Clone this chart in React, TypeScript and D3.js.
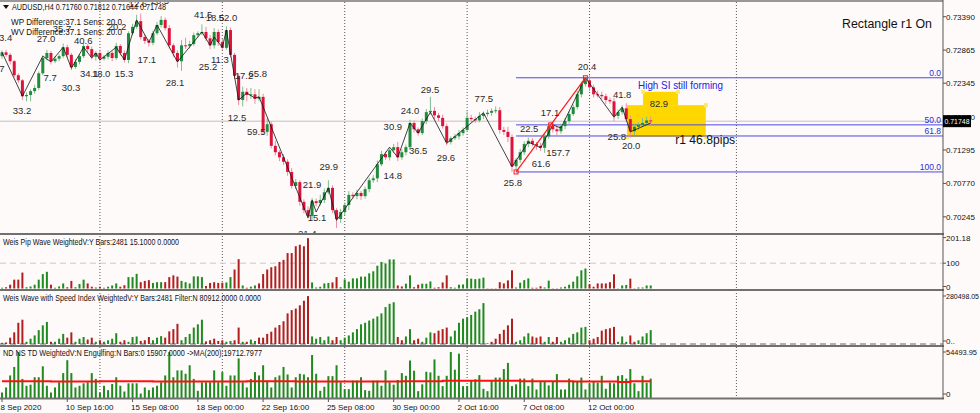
import React from 'react';
import * as d3 from 'd3';

const W = 980;
const H = 413;
const FONT = 'Liberation Sans, Arial, sans-serif';

const firstOpen = 0.7277;
const closes = [
  0.7283, 0.7279, 0.7269, 0.7247, 0.7239, 0.7214, 0.7216, 0.7222, 0.7227, 0.7250,
  0.7274, 0.7282, 0.7269, 0.7273, 0.7277, 0.7291, 0.7279, 0.7260, 0.7268, 0.7277,
  0.7293, 0.7288, 0.7276, 0.7282, 0.7273, 0.7276, 0.7282, 0.7274, 0.7293, 0.7282,
  0.7271, 0.7313, 0.7323, 0.7332, 0.7307, 0.7301, 0.7298, 0.7313, 0.7326, 0.7334,
  0.7321, 0.7294, 0.7282, 0.7269, 0.7294, 0.7293, 0.7296, 0.7310, 0.7313, 0.7315,
  0.7305, 0.7294, 0.7315, 0.7299, 0.7290, 0.7318, 0.7279, 0.7246, 0.7208, 0.7221,
  0.7216, 0.7217, 0.7210, 0.7213, 0.7158, 0.7170, 0.7136, 0.7126, 0.7118, 0.7111,
  0.7095, 0.7073, 0.7079, 0.7048, 0.7035, 0.7026, 0.7049, 0.7046, 0.7051, 0.7063,
  0.7070, 0.7035, 0.7021, 0.7032, 0.7043, 0.7059, 0.7057, 0.7062, 0.7057, 0.7068,
  0.7082, 0.7085, 0.7107, 0.7123, 0.7118, 0.7129, 0.7134, 0.7118, 0.7126, 0.7134,
  0.7172, 0.7162, 0.7156, 0.7175, 0.7189, 0.7191, 0.7184, 0.7180, 0.7167, 0.7142,
  0.7148, 0.7151, 0.7156, 0.7161, 0.7180, 0.7178, 0.7176, 0.7183, 0.7186, 0.7188,
  0.7191, 0.7192, 0.7161, 0.7158, 0.7150, 0.7104, 0.7114, 0.7126, 0.7139, 0.7144,
  0.7139, 0.7136, 0.7133, 0.7151, 0.7167, 0.7162, 0.7159, 0.7167, 0.7175, 0.7186,
  0.7197, 0.7217, 0.7233, 0.7239, 0.7228, 0.7217, 0.7216, 0.7214, 0.7208, 0.7206,
  0.7183, 0.7189, 0.7195, 0.7178, 0.7159, 0.7166, 0.7169, 0.7172, 0.7176, 0.71748,
];
// wick lengths in pips beyond the body
const wickUp = [
  3, 4, 3, 2, 3, 2, 4, 3, 5, 3, 4, 5, 3, 4, 3, 6, 4, 3, 4, 3,
  5, 3, 4, 3, 5, 3, 4, 3, 5, 3, 4, 3, 5, 10, 12, 4, 3, 4, 5, 6,
  4, 5, 3, 4, 8, 12, 5, 4, 3, 12, 8, 5, 6, 4, 5, 6, 4, 3, 4, 8,
  6, 10, 8, 12, 5, 10, 4, 8, 3, 5, 4, 6, 5, 3, 4, 6, 5, 4, 8, 6,
  12, 4, 3, 5, 4, 6, 4, 5, 3, 4, 4, 5, 6, 5, 4, 3, 5, 8, 5, 4,
  5, 4, 3, 4, 5, 22, 6, 4, 5, 4, 3, 4, 5, 4, 10, 5, 4, 6, 4, 5,
  4, 6, 5, 5, 8, 4, 3, 5, 4, 5, 4, 3, 5, 4, 5, 4, 6, 4, 5, 4,
  4, 5, 4, 5, 8, 4, 6, 5, 4, 4, 5, 4, 5, 8, 6, 5, 4, 8, 6, 6,
];
const wickDn = [
  4, 3, 5, 3, 4, 6, 8, 10, 4, 3, 3, 4, 5, 3, 4, 3, 4, 5, 3, 4,
  3, 5, 4, 6, 4, 3, 4, 5, 3, 4, 4, 5, 3, 3, 4, 5, 6, 4, 3, 4,
  4, 5, 6, 10, 15, 5, 4, 3, 4, 3, 4, 6, 5, 6, 4, 3, 4, 5, 8, 10,
  10, 6, 8, 4, 5, 6, 4, 5, 6, 5, 6, 4, 5, 6, 5, 4, 6, 5, 4, 5,
  3, 5, 14, 6, 5, 8, 4, 5, 6, 4, 5, 4, 6, 3, 4, 5, 4, 6, 4, 5,
  4, 5, 4, 3, 5, 4, 6, 5, 4, 5, 4, 3, 5, 4, 3, 5, 4, 3, 5, 4,
  5, 4, 6, 5, 8, 9, 6, 5, 4, 5, 4, 6, 5, 8, 4, 5, 6, 4, 5, 4,
  3, 4, 5, 4, 6, 5, 4, 5, 6, 4, 8, 5, 4, 5, 10, 6, 5, 4, 5, 6,
];

// wave direction runs (U = up wave, D = down wave)
const waveRuns: [string, number][] = [
  ['U', 1], ['D', 5], ['U', 6], ['D', 1], ['U', 3], ['D', 2], ['U', 3], ['D', 2], ['U', 1], ['D', 1],
  ['U', 4], ['D', 2], ['U', 3], ['D', 3], ['U', 3], ['D', 4], ['U', 6], ['D', 5], ['U', 2], ['D', 2],
  ['U', 1], ['D', 1], ['U', 2], ['D', 13], ['U', 5], ['D', 2], ['U', 14], ['D', 2], ['U', 2], ['D', 2],
  ['U', 3], ['D', 4], ['U', 9], ['D', 7], ['U', 4], ['D', 3], ['U', 2], ['D', 2], ['U', 7], ['D', 7],
  ['U', 3], ['D', 2], ['U', 4],
];

const pipWave = [
  3, 5, 15, 35, 35, 63, 5, 8, 15, 35, 57, 66, 15, 3, 8, 20, 5, 30, 5, 18,
  35, 20, 7, 4, 7, 3, 7, 12, 20, 7, 13, 45, 45, 58, 25, 30, 33, 22, 25, 25,
  25, 45, 52, 47, 30, 25, 20, 48, 48, 45, 10, 22, 25, 22, 23, 24, 45, 75, 116, 12,
  3, 7, 12, 20, 57, 75, 84, 88, 105, 113, 140, 140, 167, 173, 167, 199, 24, 4, 7, 20,
  22, 24, 45, 5, 36, 27, 40, 40, 47, 47, 60, 68, 90, 105, 99, 115, 115, 12, 8, 19,
  52, 5, 15, 19, 19, 28, 3, 5, 24, 52, 5, 3, 15, 16, 39, 39, 37, 39, 43, 1,
  1, 1, 25, 20, 32, 72, 4, 23, 33, 40, 3, 3, 9, 4, 31, 1, 1, 4, 7, 15,
  27, 48, 72, 79, 17, 7, 20, 20, 20, 25, 56, 1, 12, 14, 39, 1, 4, 4, 12, 12,
];

// thousands
const speedWave = [
  7, 9, 37, 68, 124, 142, 13, 31, 50, 81, 109, 129, 13, 13, 31, 59, 37, 68, 13, 31,
  41, 26, 37, 13, 22, 13, 22, 31, 63, 13, 22, 13, 41, 44, 18, 22, 41, 22, 37, 46,
  37, 74, 87, 118, 22, 41, 59, 96, 115, 142, 15, 22, 31, 18, 22, 13, 18, 22, 96, 13,
  13, 26, 18, 37, 37, 59, 72, 96, 111, 133, 179, 198, 207, 226, 253, 280, 44, 31, 41, 22,
  44, 22, 41, 22, 37, 50, 68, 87, 115, 124, 137, 148, 161, 179, 216, 235, 244, 41, 22, 44,
  87, 22, 31, 13, 37, 68, 63, 78, 87, 96, 44, 78, 124, 148, 157, 170, 189, 203, 239, 4,
  13, 31, 59, 83, 109, 148, 13, 22, 44, 63, 44, 37, 44, 13, 41, 13, 41, 13, 22, 37,
  59, 68, 96, 100, 22, 31, 41, 78, 87, 92, 100, 13, 44, 13, 50, 13, 22, 44, 63, 81,
];

const ndVolume = [
  6500, 12500, 26700, 36800, 54400, 22600, 14500, 15800, 24600, 24600,
  37600, 14500, 6500, 12500, 18600, 29500, 44800, 29500, 12500, 14500,
  17400, 18600, 29500, 22600, 6500, 14500, 9300, 16600, 24600, 14500,
  7700, 17400, 17400, 17400, 5300, 12500, 9300, 12500, 14500, 18600,
  26700, 54400, 24600, 32700, 32700, 28700, 38800, 22600, 8500, 18600,
  18600, 18600, 32700, 18600, 30700, 14500, 26700, 26700, 46900, 18600,
  12500, 22600, 30700, 26700, 38800, 20600, 12500, 24600, 26700, 36800,
  27900, 12500, 24600, 28700, 27900, 24600, 50900, 28700, 8500, 13300,
  25900, 25900, 38800, 18600, 10500, 10500, 20600, 20600, 24600, 9300,
  8500, 20600, 20600, 14500, 32700, 18600, 15800, 21400, 29500, 26300,
  44400, 32300, 8100, 16200, 31100, 30300, 45700, 26300, 14100, 26300,
  54500, 33500, 52500, 14100, 14100, 20200, 22200, 27100, 10900, 8100,
  20200, 24200, 24200, 34300, 41600, 14100, 16200, 23000, 23000, 14100,
  23000, 10100, 20200, 20200, 14900, 19000, 28300, 10100, 10100, 23000,
  19000, 19000, 24200, 10100, 17400, 19000, 18200, 26300, 10900, 18200,
  17400, 26300, 27100, 23000, 34300, 17400, 8100, 26300, 18200, 23000,
];

// MA(200) steps: [from bar, value]
const maRuns: [number, number][] = [
  [0, 19900], [12, 19600], [24, 19800], [37, 19400], [60, 19700], [72, 19400],
  [98, 19900], [108, 20400], [127, 19800], [140, 19500], [151, 19100], [154, 19700],
];

// zigzag turning points [bar, price]
const zigzag: [number, number][] = [
  [0, 0.7283], [5, 0.7214], [10, 0.7277], [12, 0.7268], [15, 0.7291], [17, 0.7258],
  [20, 0.7291], [22, 0.7274], [23, 0.7282], [24, 0.7271], [28, 0.7291], [30, 0.7271],
  [33, 0.7334], [36, 0.7299], [38, 0.7326], [43, 0.7268], [49, 0.7315], [51, 0.7294],
  [52, 0.7307], [54, 0.7291], [55, 0.7318], [58, 0.7208], [60, 0.7219], [62, 0.7211],
  [63, 0.7213], [75, 0.7023], [76, 0.7051], [77, 0.7032], [80, 0.7070], [82, 0.7019],
  [95, 0.7134], [97, 0.7118], [100, 0.7172], [102, 0.7156], [105, 0.7189], [109, 0.7140],
  [118, 0.7188], [125, 0.7103], [129, 0.7142], [132, 0.7133], [135, 0.7169], [137, 0.7164],
  [143, 0.7243], [150, 0.7181], [152, 0.7197], [154, 0.7158], [159, 0.7172],
];

// zigzag wave labels [bar, price, text]
const zzLabels: [number, number, string][] = [
  [0.9, 0.7307, '3.4'], [0, 0.7258, '7'], [4.9, 0.7192, '33.2'], [10.8, 0.7305, '27.0'],
  [11.8, 0.7243, '7.7'], [14.7, 0.7321, '35.7'], [16.9, 0.7228, '30.3'], [19.9, 0.7302, '40.6'],
  [21.4, 0.7250, '34.1'], [24.3, 0.7250, '18.0'], [28.2, 0.7323, '20.2'], [29.9, 0.7250, '15.3'],
  [33.3, 0.7359, '12.6'], [38.7, 0.7364, '20.5'], [35.5, 0.7271, '17.1'], [42.4, 0.7236, '28.1'],
  [49.3, 0.7343, '41.5'], [52.2, 0.7338, '18.5'], [55.4, 0.7338, '52.0'], [50.5, 0.7261, '25.2'],
  [53.4, 0.7271, '11.3'], [57.6, 0.7181, '12.5'], [59.3, 0.7246, '17.2'], [62.7, 0.7250, '65.8'],
  [62.3, 0.7158, '59.5'], [76, 0.7076, '21.9'], [77.2, 0.7024, '15.1'], [74.8, 0.6999, '21.4'],
  [80.1, 0.7104, '29.9'], [95.8, 0.7089, '14.8'], [95.8, 0.7166, '30.9'], [100, 0.7192, '24.0'],
  [102, 0.7129, '36.5'], [104.9, 0.7225, '29.5'], [108.8, 0.7117, '29.6'], [118.1, 0.7210, '77.5'],
  [125.2, 0.7079, '25.8'], [132.1, 0.7109, '61.6'], [136.3, 0.7126, '157.7'], [129.2, 0.7164, '22.5'],
  [134.3, 0.7188, '17.1'], [143.4, 0.7260, '20.4'], [152, 0.7216, '41.8'], [150.7, 0.7151, '25.8'],
  [154.2, 0.7136, '20.0'], [161, 0.7203, '82.9'],
];

const priceTicks = [0.7339, 0.72865, 0.72345, 0.7182, 0.71295, 0.7077, 0.70245];
const dateTicks: [number, string][] = [
  [0, '8 Sep 2020'], [16, '10 Sep 16:00'], [32, '15 Sep 08:00'], [48, '18 Sep 00:00'],
  [64, '22 Sep 16:00'], [80, '25 Sep 08:00'], [96, '30 Sep 00:00'], [112, '2 Oct 16:00'],
  [128, '7 Oct 08:00'], [144, '12 Oct 00:00'],
];
const gridBars = [24, 54, 84, 114, 144, 180];
const fibLevels: [number, string][] = [[0, '0.0'], [50, '50.0'], [61.8, '61.8'], [100, '100.0']];
const fibHigh = 0.7243;
const fibLow = 0.7095;
const fibStartBar = 126;
const fibEndBar = 143;
const lastPrice = 0.71748;
const rectMain = { b0: 153.2, b1: 172.5, p0: 0.72, p1: 0.715 };
const rectTop = { b0: 157.1, b1: 165.7, p0: 0.7221, p1: 0.72 };

const GREEN = '#1e8c3c';
const RED = '#dc143c';
const HG = '#1f8a1f';
const HR = '#b01e1e';
const AXIS_X = 943;

export default function App() {
  const x = d3.scaleLinear().domain([0, 159]).range([2, 2 + 159 * 4.08]);
  const y = d3.scaleLinear().domain([0.70245, 0.7339]).range([216.8, 16.7]);
  const y1 = d3.scaleLinear().domain([0, 201.18]).range([288.5, 237.6]);
  const y2 = d3.scaleLinear().domain([0, 280.498]).range([344, 296]);
  const y3 = d3.scaleLinear().domain([0, 54493.95]).range([398, 352]);

  const dirs: string[] = waveRuns.flatMap(([d, n]) => Array(n).fill(d));
  const ma = closes.map((_, i) => {
    let v = maRuns[0][1];
    for (const [s, val] of maRuns) if (i >= s) v = val;
    return v;
  });
  const candles = closes.map((c, i) => {
    const o = i === 0 ? firstOpen : closes[i - 1];
    const hi = Math.max(o, c) + wickUp[i] * 0.0001;
    const lo = Math.min(o, c) - wickDn[i] * 0.0001;
    return { i, o, c, hi, lo };
  });
  const zzLine = d3.line<[number, number]>().x((d) => x(d[0])).y((d) => y(d[1]))(zigzag) || '';
  const maLine = d3.line<number>().x((_, i) => x(i)).y((d) => y3(d)).curve(d3.curveStepAfter)(ma) || '';
  const fibY = (lv: number) => y(fibHigh - (fibHigh - fibLow) * lv / 100);
  const fibMid = (fibStartBar + fibEndBar) / 2;

  const sepYs = [234, 290, 346, 398.5];

  const subAxis: [number, string, number][] = [
    [y1(201.18), '201.18', 0], [y1(100), '100', 0], [y1(0) - 2, '0', 0],
    [y2(280.498), '280498.05', 33], [y2(0) - 3, '0..', 0],
    [y3(54493.95), '54493.95', 31], [y3(0) - 4, '0', 0],
  ];

  return (
    <svg width={W} height={H} style={{ position: 'absolute', left: 0, top: 0, background: '#fffafa' }} fontFamily={FONT}>
      <defs>
        <clipPath id="mainClip"><rect x={0} y={2} width={AXIS_X} height={231} /></clipPath>
        <clipPath id="chartClip"><rect x={0} y={0} width={AXIS_X} height={399} /></clipPath>
      </defs>
      <rect x={0} y={0} width={W} height={H} fill="#fffafa" />

      {/* vertical dotted grid */}
      {gridBars.map((b) => (
        <line key={'g' + b} x1={x(b)} x2={x(b)} y1={2} y2={398} stroke="#555" strokeWidth={1} strokeDasharray="1,2" />
      ))}

      <g clipPath="url(#mainClip)">
        <line x1={0} x2={AXIS_X} y1={y(lastPrice)} y2={y(lastPrice)} stroke="#c0c0c0" strokeWidth={1} />
        <rect x={x(rectMain.b0)} width={x(rectMain.b1) - x(rectMain.b0)} y={y(rectMain.p0)} height={y(rectMain.p1) - y(rectMain.p0)} fill="#ffd700" />
        <rect x={x(rectTop.b0)} width={x(rectTop.b1) - x(rectTop.b0)} y={y(rectTop.p0)} height={y(rectTop.p1) - y(rectTop.p0)} fill="#ffd700" />
        {[[rectTop.b0, rectTop.p0], [rectTop.b1, rectTop.p0], [rectMain.b1, rectMain.p0], [rectMain.b0, rectMain.p1], [rectMain.b1, rectMain.p1]].map(([b, p], k) => (
          <rect key={'h' + k} x={x(b) - 2} y={y(p) - 2} width={4} height={4} fill="#ffe866" />
        ))}
        {fibLevels.map(([lv, t]) => (
          <g key={'f' + lv}>
            <line x1={x(fibStartBar)} x2={AXIS_X} y1={fibY(lv)} y2={fibY(lv)} stroke="#4a4ae6" strokeWidth={1} />
            <text x={AXIS_X - 2} y={fibY(lv) - 2} fontSize={8.5} fill="#2b2bd8" textAnchor="end">{t}</text>
          </g>
        ))}
        {candles.map((d) => {
          const up = d.c >= d.o;
          const col = up ? GREEN : RED;
          const top = y(Math.max(d.o, d.c));
          const bot = y(Math.min(d.o, d.c));
          return (
            <g key={'c' + d.i}>
              <line x1={x(d.i)} x2={x(d.i)} y1={y(d.hi)} y2={y(d.lo)} stroke={up ? '#7cbf8e' : '#ef8aa0'} strokeWidth={1} />
              <rect x={x(d.i) - 1.5} y={top} width={3} height={Math.max(1, bot - top)} fill={col} />
            </g>
          );
        })}
        <path d={zzLine} fill="none" stroke="#111" strokeWidth={0.8} />
        <line x1={x(fibStartBar)} y1={y(fibLow)} x2={x(fibEndBar)} y2={y(fibHigh)} stroke="#ff1a1a" strokeWidth={1.2} />
        {[[fibStartBar, fibLow], [fibMid, (fibHigh + fibLow) / 2], [fibEndBar, fibHigh]].map(([b, p], k) => (
          <rect key={'m' + k} x={x(b) - 2} y={y(p) - 2} width={4} height={4} fill="none" stroke="#ff1a1a" strokeWidth={1} />
        ))}
        {zzLabels.map(([b, p, t], k) => (
          <text key={'l' + k} x={x(b)} y={y(p) + 3.5} fontSize={9.5} fill="#2a2a2a" textAnchor="middle">{t}</text>
        ))}
        <text x={x(155.9)} y={y(0.7225)} fontSize={11} fill="#2222dd" textLength={85} lengthAdjust="spacingAndGlyphs">High SI still forming</text>
        <text x={x(165)} y={y(0.7139)} fontSize={13} fill="#111" textLength={60} lengthAdjust="spacingAndGlyphs">r1 46.8pips</text>
      </g>

      <path d="M3,5 L9,5 L6,9 Z" fill="#111" />
      <text x={12} y={10} fontSize={8.5} fill="#111" textLength={154} lengthAdjust="spacingAndGlyphs">AUDUSD,H4  0.71760 0.71812 0.71644 0.71748</text>
      <text x={11} y={25} fontSize={9} fill="#111" textLength={111} lengthAdjust="spacingAndGlyphs">WP Difference:37.1 Sens: 20.0</text>
      <text x={11} y={35} fontSize={9} fill="#111" textLength={111} lengthAdjust="spacingAndGlyphs">WV Difference:37.1 Sens: 20.0</text>
      <text x={842} y={28} fontSize={12.5} fill="#111" textLength={90} lengthAdjust="spacingAndGlyphs">Rectangle r1 On</text>

      <g clipPath="url(#chartClip)">
        <line x1={0} x2={AXIS_X} y1={y1(100)} y2={y1(100)} stroke="#c8c8c8" strokeWidth={1} strokeDasharray="6,4" />
        {pipWave.map((v, i) => (
          <rect key={'p' + i} x={x(i) - 1} width={2} y={y1(v)} height={y1(0) - y1(v)} fill={dirs[i] === 'U' ? HG : HR} />
        ))}
        <line x1={0} x2={AXIS_X} y1={y2(0)} y2={y2(0)} stroke="#666" strokeWidth={1.2} strokeDasharray="6,4" />
        {speedWave.map((v, i) => (
          <rect key={'s' + i} x={x(i) - 1} width={2} y={y2(v)} height={y2(0) - y2(v)} fill={dirs[i] === 'U' ? HG : HR} />
        ))}
        {ndVolume.map((v, i) => (
          <rect key={'n' + i} x={x(i) - 1} width={2} y={y3(v)} height={y3(0) - y3(v)} fill={HG} />
        ))}
        <path d={maLine} fill="none" stroke="#ff1010" strokeWidth={2} />
      </g>
      <text x={3} y={245} fontSize={8.5} fill="#111" textLength={176} lengthAdjust="spacingAndGlyphs">Weis Pip Wave WeightedV:Y Bars:2481 15.1000 0.0000</text>
      <text x={3} y={301} fontSize={8.5} fill="#111" textLength={258} lengthAdjust="spacingAndGlyphs">Weis Wave with Speed Index WeightedV:Y Bars:2481 Filter:N 80912.0000 0.0000</text>
      <text x={3} y={356} fontSize={8.5} fill="#111" textLength={259} lengthAdjust="spacingAndGlyphs">ND NS TD WeightedV:N Engulfing:N Bars:0    15907.0000  -&gt;MA(200):19712.7977</text>

      <line x1={0} x2={AXIS_X} y1={1} y2={1} stroke="#777" strokeWidth={1.5} />
      {sepYs.map((sy, k) => (
        <line key={'sep' + k} x1={0} x2={AXIS_X + 1} y1={sy} y2={sy} stroke="#707070" strokeWidth={2} />
      ))}
      <line x1={AXIS_X} x2={AXIS_X} y1={0} y2={399} stroke="#555" strokeWidth={1} />

      {priceTicks.map((p) => (
        <g key={'pt' + p}>
          <line x1={AXIS_X} x2={AXIS_X + 3} y1={y(p)} y2={y(p)} stroke="#555" />
          <text x={AXIS_X + 3} y={y(p) + 3} fontSize={8} fill="#111">{p.toFixed(5)}</text>
        </g>
      ))}
      <rect x={AXIS_X} y={y(lastPrice) - 6} width={28} height={12} fill="#000" />
      <text x={AXIS_X + 1.5} y={y(lastPrice) + 3} fontSize={8} fill="#fff" textLength={25} lengthAdjust="spacingAndGlyphs">{lastPrice.toFixed(5)}</text>

      {subAxis.map(([py, t, len], k) => (
        <g key={'sa' + k}>
          <line x1={AXIS_X} x2={AXIS_X + 3} y1={py} y2={py} stroke="#555" />
          {len > 0 ? (
            <text x={AXIS_X + 3} y={py + 3} fontSize={8} fill="#111" textLength={len} lengthAdjust="spacingAndGlyphs">{t}</text>
          ) : (
            <text x={AXIS_X + 3} y={py + 3} fontSize={8} fill="#111">{t}</text>
          )}
        </g>
      ))}

      {dateTicks.map(([b, t]) => (
        <g key={'d' + b}>
          <line x1={x(b)} x2={x(b)} y1={399} y2={402} stroke="#555" />
          <text x={x(b) - 1.5} y={409.5} fontSize={8} fill="#111">{t}</text>
        </g>
      ))}
    </svg>
  );
}
